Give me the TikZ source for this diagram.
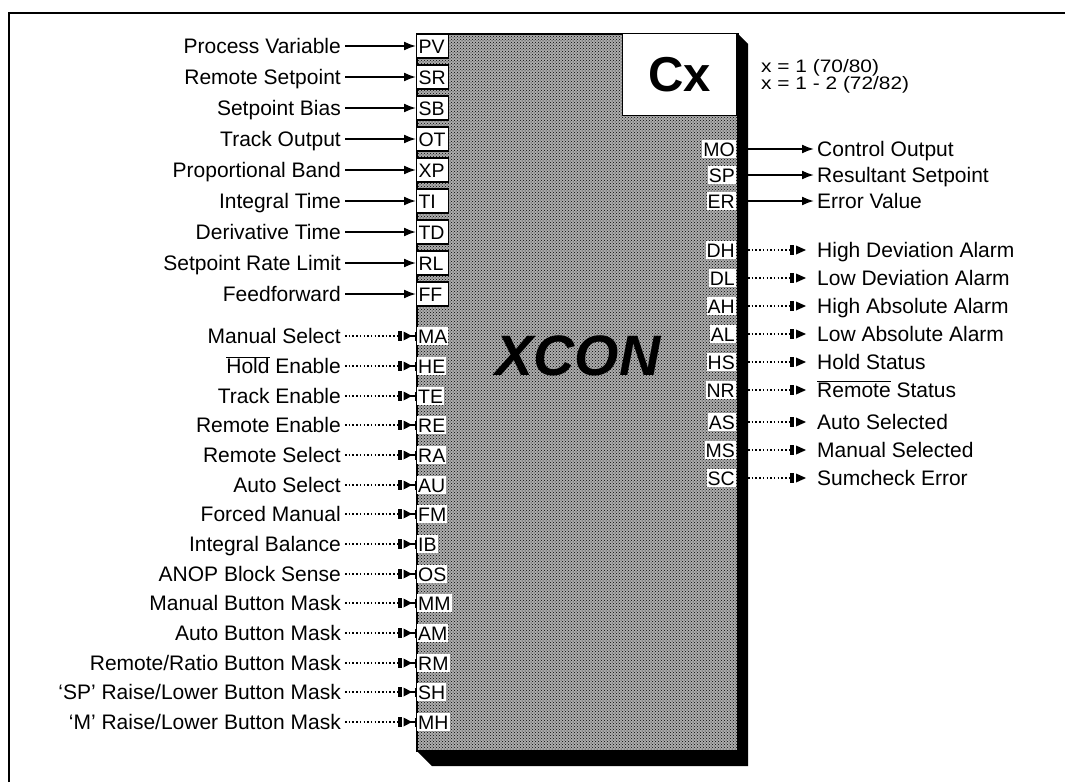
\documentclass[tikz,border=0pt]{standalone}
\usepackage{fontspec}
\setmainfont{Liberation Sans}
\usetikzlibrary{arrows.meta,patterns}
\tikzset{
  lbl/.style={font=\fontsize{21}{23}\selectfont, inner sep=0pt, text height=15pt, text depth=0pt},
  pinbox/.style={draw, line width=1.1pt, fill=white, font=\fontsize{19.5}{21}\selectfont, inner xsep=2pt, inner ysep=0pt,
     text width=28pt, align=left, minimum height=24pt, text height=14pt, text depth=0pt},
  pinbin/.style={fill=white, font=\fontsize{19.5}{21}\selectfont, inner xsep=1pt, inner ysep=2pt, text height=14pt, text depth=0pt},
  ana/.style={line width=1.8pt, -{Latex[length=12pt,width=9pt]}},
  dotl/.style={line width=1.4pt, dash pattern=on 1.5pt off 2.2pt},
  symb/.style={fill=black},
  annot/.style={font=\fontsize{18}{19}\selectfont, anchor=west, inner sep=0pt},
}
\begin{document}
\begin{tikzpicture}[x=1pt,y=-1pt]
\useasboundingbox (0,0) rectangle (1065,782);
\fill[white] (0,0) rectangle (1065,782);
% frame
\draw[line width=1.3pt] (9,782) -- (9,13) -- (1065,13);
% block with shadow
\fill[black] (737,33) -- (748,44) -- (748,766) -- (432,766) -- (416,750) -- (737,750) -- cycle;
\node[draw, line width=1.8pt, fill=black!32, anchor=north west, minimum width=321pt, minimum height=717pt, inner sep=0pt,
  postaction={pattern=crosshatch dots, pattern color=black}] (blk) at (416,33) {};
% Cx box
\node[draw, line width=1pt, fill=white, anchor=north east, minimum width=114pt, minimum height=82pt] (cxbox) at (737,33) {};
\node[font=\fontsize{49}{50}\selectfont\bfseries, inner sep=0pt] (cx) at (cxbox.center) {Cx};
\node[annot] (ann1) at (761,68) {\scalebox{1.16}[1]{x = 1 (70/80)}};
\node[annot] (ann2) at (761,85) {\scalebox{1.16}[1]{x = 1 - 2 (72/82)}};
% title
\node[font=\fontsize{57}{60}\selectfont\bfseries\itshape, inner sep=0pt] (title) at (578,356) {XCON};
% analog inputs
\foreach \txt/\pn/\yy [count=\i] in {Process Variable/PV/46, Remote Setpoint/SR/77, Setpoint Bias/SB/108,
   Track Output/OT/139, Proportional Band/XP/170, Integral Time/TI/201, Derivative Time/TD/232,
   Setpoint Rate Limit/RL/263, Feedforward/FF/294}{
  \node[lbl, anchor=east] (li\i) at (341,\yy) {\txt};
  \node[pinbox, anchor=west] (pi\i) at (416,\yy) {\pn};
  \draw[ana] ([xshift=4pt]li\i.east) -- (pi\i.west);
}
% binary inputs
\foreach \txt/\pn/\yy [count=\i] in {Manual Select/MA/336, {$\overline{\mbox{Hold}}$ Enable}/HE/366, Track Enable/TE/396,
   Remote Enable/RE/425, Remote Select/RA/455, Auto Select/AU/485, Forced Manual/FM/514, Integral Balance/IB/544,
   ANOP Block Sense/OS/574, Manual Button Mask/MM/603, Auto Button Mask/AM/633, {Remote/Ratio Button Mask}/RM/663,
   {`SP' Raise/Lower Button Mask}/SH/692, {`M' Raise/Lower Button Mask}/MH/722}{
  \node[lbl, anchor=east] (lb\i) at (341,\yy) {\txt};
  \node[pinbin, anchor=west] (pb\i) at (417,\yy) {\pn};
  \draw[dotl] ([xshift=4pt]lb\i.east) -- ([xshift=-19pt]pb\i.west);
  \fill[symb] ([xshift=-19pt,yshift=-5pt]pb\i.west) rectangle ([xshift=-15.5pt,yshift=5pt]pb\i.west);
  \fill[symb] ([xshift=-13.5pt,yshift=-4.5pt]pb\i.west) -- ([xshift=-5pt]pb\i.west) -- ([xshift=-13.5pt,yshift=4.5pt]pb\i.west) -- cycle;
  \draw[line width=1.3pt] ([xshift=-7pt]pb\i.west) -- (pb\i.west);
  \draw[line width=1.3pt] ([xshift=-1pt,yshift=-4.5pt]pb\i.west) -- ([xshift=-1pt,yshift=4.5pt]pb\i.west);
}
% analog outputs
\foreach \txt/\pn/\yy [count=\i] in {Control Output/MO/149, Resultant Setpoint/SP/175, Error Value/ER/201}{
  \node[pinbin, anchor=east] (po\i) at (736,\yy) {\pn};
  \node[lbl, anchor=west] (lo\i) at (817,\yy) {\txt};
  \draw[ana] ([xshift=12pt]po\i.east) -- ([xshift=-3pt]lo\i.west);
}
% binary outputs
\foreach \txt/\pn/\yy [count=\i] in {High Deviation Alarm/DH/250, Low Deviation Alarm/DL/278, High Absolute Alarm/AH/306,
   Low Absolute Alarm/AL/334, Hold Status/HS/362, {$\overline{\mbox{Remote}}$ Status}/NR/390, Auto Selected/AS/422,
   Manual Selected/MS/450, Sumcheck Error/SC/478}{
  \node[pinbin, anchor=east] (pq\i) at (736,\yy) {\pn};
  \node[lbl, anchor=west] (lq\i) at (817,\yy) {\txt};
  \draw[dotl] ([xshift=12pt]pq\i.east) -- ([xshift=-27pt]lq\i.west);
  \fill[symb] ([xshift=-27pt,yshift=-5pt]lq\i.west) rectangle ([xshift=-23.5pt,yshift=5pt]lq\i.west);
  \fill[symb] ([xshift=-21pt,yshift=-4.5pt]lq\i.west) -- ([xshift=-11pt]lq\i.west) -- ([xshift=-21pt,yshift=4.5pt]lq\i.west) -- cycle;
}
\end{tikzpicture}
\end{document}
